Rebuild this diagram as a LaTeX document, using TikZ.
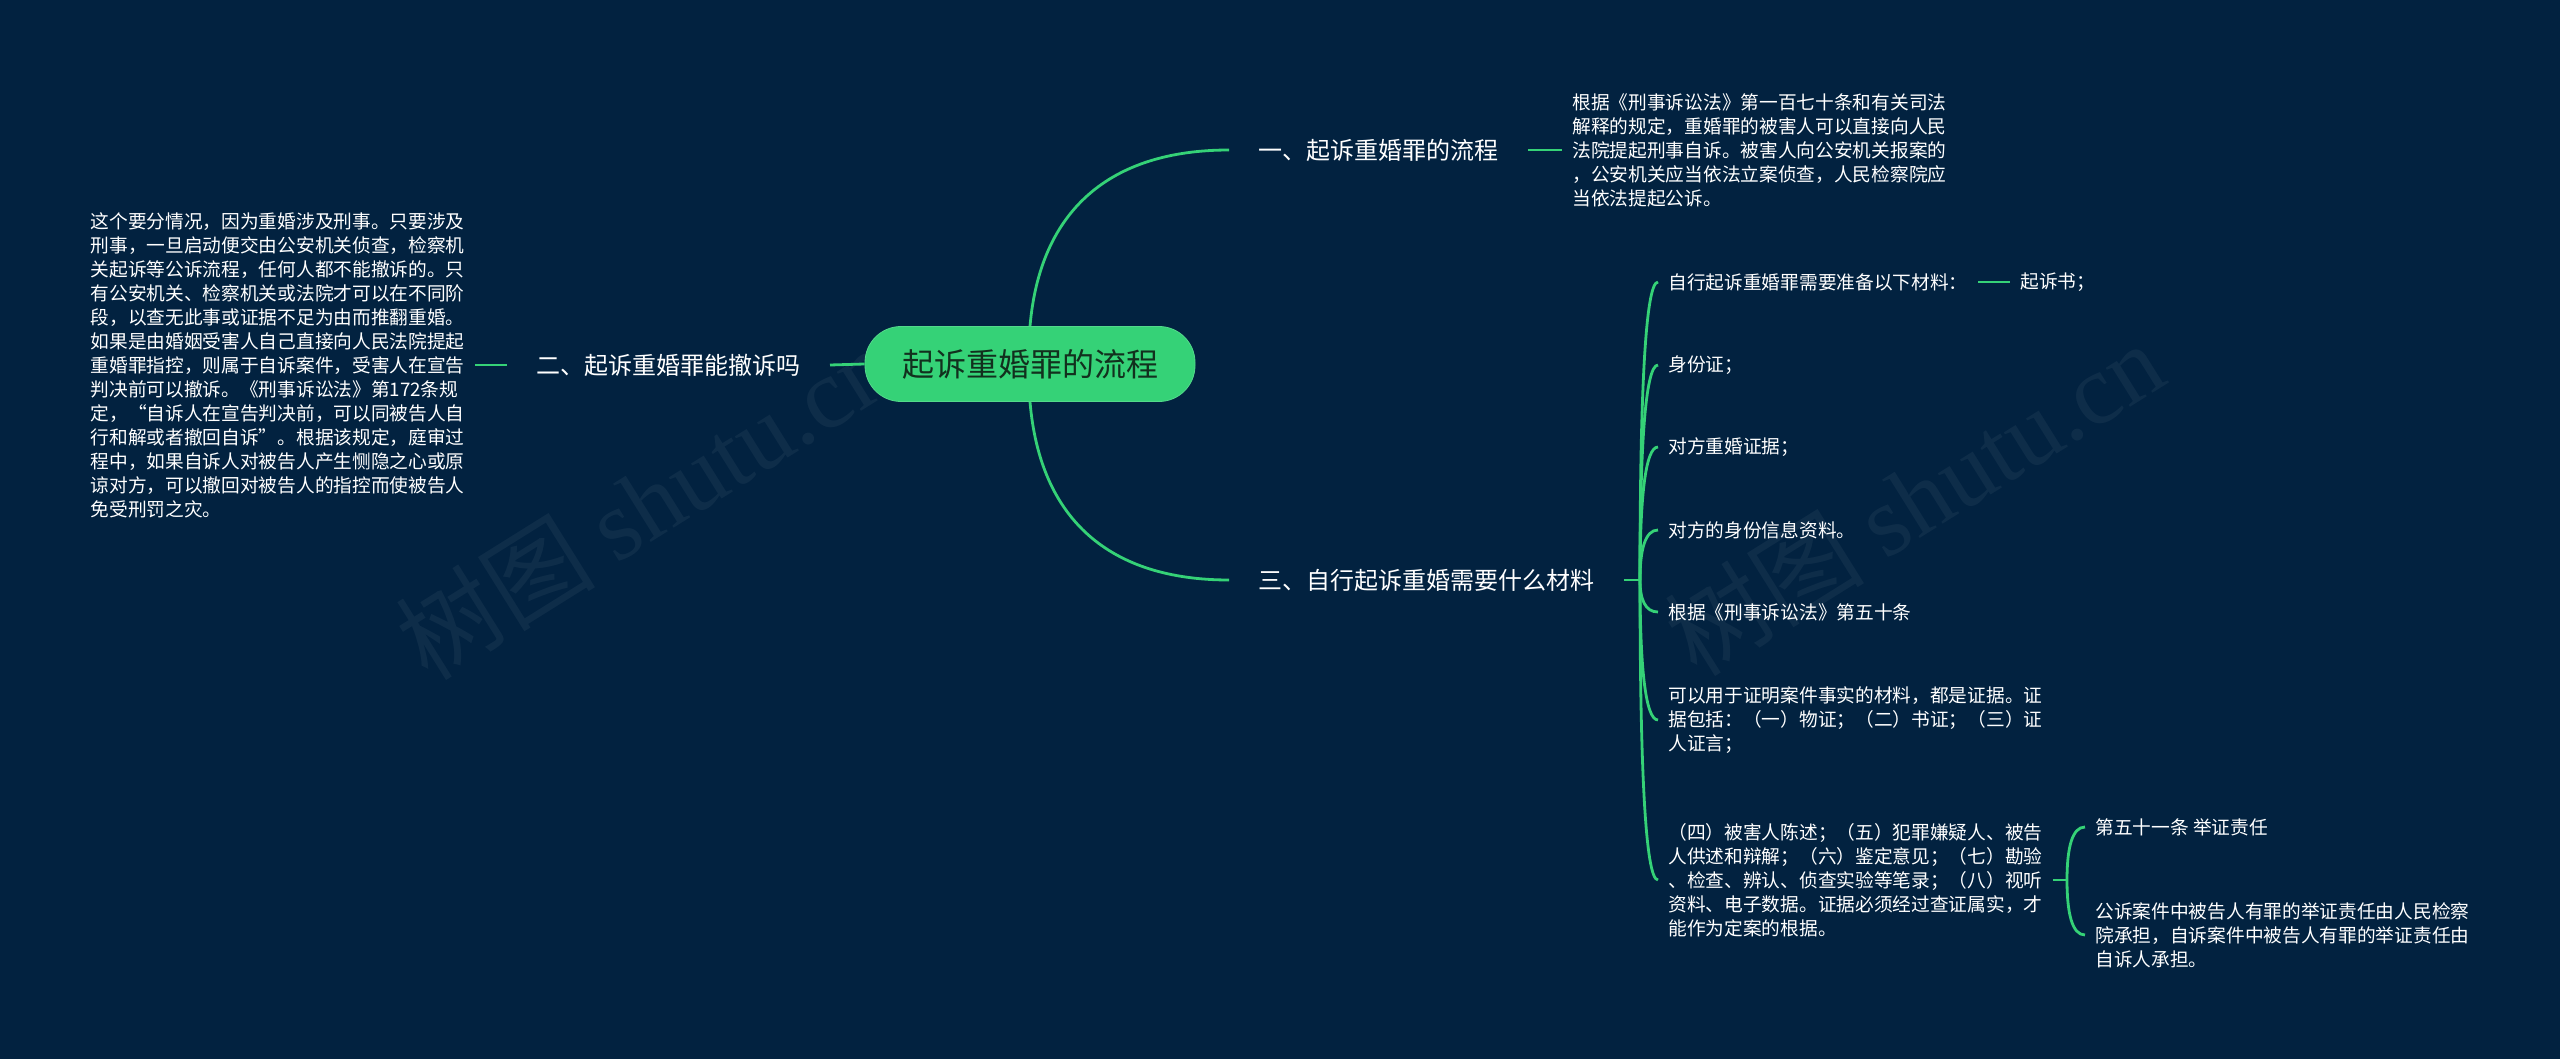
\documentclass[tikz,border=0pt]{standalone}
\usepackage{fontspec}
\setmainfont{Noto Sans CJK SC}
\newfontfamily\wmfont{Liberation Serif}
\usepackage{tikz}
\usetikzlibrary{calc,positioning}
\definecolor{MMbg}{HTML}{022240}
\definecolor{MMgreen}{HTML}{35D277}
\definecolor{MMdark}{HTML}{12301E}

\begin{document}
\begin{tikzpicture}[x=0.5pt, y=-0.5pt,
            root/.style={rectangle, rounded corners=18pt, fill=MMgreen, draw=MMgreen!85!white,
                         text=MMdark, font=\fontsize{16}{18}\selectfont,
                         minimum width=165pt, minimum height=37.5pt},
            topic/.style={text=white, font=\fontsize{12}{14}\selectfont, inner xsep=14.5pt},
            leaf/.style={text=white, font=\fontsize{9.35}{12}\selectfont, align=left, inner sep=5pt},
            link/.style={draw=MMgreen, line width=1.4pt},
            wmark/.style={text=white, opacity=0.05, rotate=32, font=\fontsize{50}{50}\selectfont}]
        \useasboundingbox (0,0) rectangle (2560,1059);
        \fill[MMbg] (0,0) rectangle (2560,1059);
        \node[wmark] (wm1) at (645,502)  {树图 {\wmfont shutu.cn}};
        \node[wmark] (wm2) at (1914,498) {树图 {\wmfont shutu.cn}};

        \node[root] (root) at (1030,364) {起诉重婚罪的流程};
        \node[topic, anchor=west] (b1) at (1229,150) {一、起诉重婚罪的流程};
        \node[topic, anchor=east] (b2) at (830,365)  {二、起诉重婚罪能撤诉吗};
        \node[topic, anchor=west] (b3) at (1229,580) {三、自行起诉重婚需要什么材料};

        \node[leaf, anchor=west] (p1) at (1562,150) {根据《刑事诉讼法》第一百七十条和有关司法\\解释的规定，重婚罪的被害人可以直接向人民\\法院提起刑事自诉。被害人向公安机关报案的\\，公安机关应当依法立案侦查，人民检察院应\\当依法提起公诉。};
        \node[leaf, anchor=east] (p2) at (475,365) {这个要分情况，因为重婚涉及刑事。只要涉及\\刑事，一旦启动便交由公安机关侦查，检察机\\关起诉等公诉流程，任何人都不能撤诉的。只\\有公安机关、检察机关或法院才可以在不同阶\\段，以查无此事或证据不足为由而推翻重婚。\\如果是由婚姻受害人自己直接向人民法院提起\\重婚罪指控，则属于自诉案件，受害人在宣告\\判决前可以撤诉。《刑事诉讼法》第172条规\\定，“自诉人在宣告判决前，可以同被告人自\\行和解或者撤回自诉”。根据该规定，庭审过\\程中，如果自诉人对被告人产生恻隐之心或原\\谅对方，可以撤回对被告人的指控而使被告人\\免受刑罚之灾。};

        \coordinate (j3) at (1640,580);
        \node[leaf, anchor=west] (m1) at (1658,282) {自行起诉重婚罪需要准备以下材料：};
        \node[leaf, anchor=west] (m2) at (1658,365) {身份证；};
        \node[leaf, anchor=west] (m3) at (1658,447) {对方重婚证据；};
        \node[leaf, anchor=west] (m4) at (1658,530) {对方的身份信息资料。};
        \node[leaf, anchor=west] (m5) at (1658,612) {根据《刑事诉讼法》第五十条};
        \node[leaf, anchor=west] (m6) at (1658,720) {可以用于证明案件事实的材料，都是证据。证\\据包括：（一）物证；（二）书证；（三）证\\人证言；};
        \node[leaf, anchor=west] (m7) at (1658,880) {（四）被害人陈述；（五）犯罪嫌疑人、被告\\人供述和辩解；（六）鉴定意见；（七）勘验\\、检查、辨认、侦查实验等笔录；（八）视听\\资料、电子数据。证据必须经过查证属实，才\\能作为定案的根据。};
        \node[leaf, anchor=west] (c1) at (2010,282) {起诉书；};

        \coordinate (j7) at (2067,880);
        \node[leaf, anchor=west] (n1) at (2085,827) {第五十一条 举证责任};
        \node[leaf, anchor=west] (n2) at (2085,935) {公诉案件中被告人有罪的举证责任由人民检察\\院承担，自诉案件中被告人有罪的举证责任由\\自诉人承担。};

        % branches off the root
        \draw[link] (root.north) .. controls (1040,210) and (1110,150) .. (b1.west);
        \draw[link] (root.south) .. controls (1040,520) and (1110,580) .. (b3.west);
        \draw[link] (root.west) -- (b2.east);
        \draw[link] (b2.west) -- (p2.east);
        \draw[link] (b1.east) -- (p1.west);

        % materials bracket
        \draw[link] (b3.east) -- (j3);
        \draw[link] (j3) .. controls ($(j3)!0.6!(j3 |- m1.west)$) and +(-13,0) .. (m1.west);
        \draw[link] (j3) .. controls ($(j3)!0.6!(j3 |- m2.west)$) and +(-13,0) .. (m2.west);
        \draw[link] (j3) .. controls ($(j3)!0.6!(j3 |- m3.west)$) and +(-13,0) .. (m3.west);
        \draw[link] (j3) .. controls ($(j3)!0.6!(j3 |- m4.west)$) and +(-13,0) .. (m4.west);
        \draw[link] (j3) .. controls ($(j3)!0.6!(j3 |- m5.west)$) and +(-13,0) .. (m5.west);
        \draw[link] (j3) .. controls ($(j3)!0.6!(j3 |- m6.west)$) and +(-13,0) .. (m6.west);
        \draw[link] (j3) .. controls ($(j3)!0.6!(j3 |- m7.west)$) and +(-13,0) .. (m7.west);
        \draw[link] (m1.east) -- (c1.west);

        % burden of proof
        \draw[link] (m7.east) -- (j7);
        \draw[link] (j7) .. controls ($(j7)!0.6!(j7 |- n1.west)$) and +(-13,0) .. (n1.west);
        \draw[link] (j7) .. controls ($(j7)!0.6!(j7 |- n2.west)$) and +(-13,0) .. (n2.west);
\end{tikzpicture}
\end{document}
